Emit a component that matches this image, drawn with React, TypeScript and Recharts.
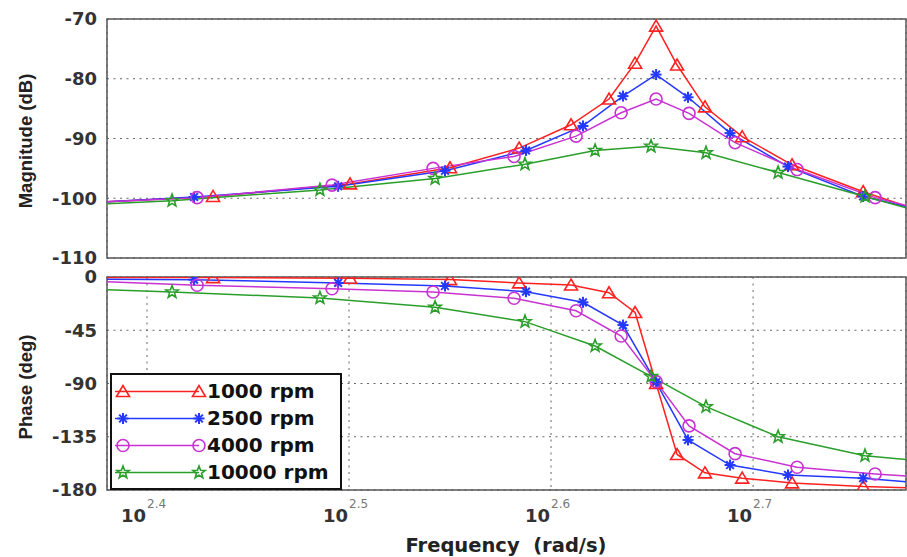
import React from "react";
import {
  LineChart,
  Line,
  XAxis,
  YAxis,
  CartesianGrid,
  ReferenceArea,
  Legend,
  Label,
} from "recharts";

// log10(frequency) range shown on both plots
const freqDomain = [2.3802, 2.7757];
const freqTicks = [2.4, 2.5, 2.6, 2.7];
const magTicks = [-110, -100, -90, -80, -70];
const phaseTicks = [-180, -135, -90, -45, 0];

// 1000 rpm (first and last points sit on the axes edges, no marker)
const rpm1000Freq = [2.3802, 2.4327, 2.5005, 2.55, 2.5842, 2.6099, 2.6287, 2.6416, 2.652, 2.6624, 2.6762, 2.6946, 2.7193, 2.7545, 2.7757];
const rpm1000Mag = [-100.6, -99.7, -97.6, -94.9, -91.6, -87.7, -83.4, -77.4, -71.2, -77.7, -84.7, -89.7, -94.4, -98.9, -101.3];
const rpm1000Phase = [-0.5, -0.5, -1.0, -2.2, -5.0, -6.8, -13.3, -30.0, -90.0, -150.0, -165.5, -170.0, -174.0, -177.0, -178.0];

// 2500 rpm
const rpm2500Freq = [2.3802, 2.4233, 2.4946, 2.5475, 2.5876, 2.6158, 2.6356, 2.652, 2.6678, 2.6886, 2.7173, 2.7545, 2.7757];
const rpm2500Mag = [-100.6, -99.8, -98.0, -95.4, -92.0, -87.9, -82.9, -79.3, -83.1, -89.1, -94.7, -99.7, -101.4];
const rpm2500Phase = [-2.0, -2.3, -5.0, -7.6, -12.4, -21.4, -40.6, -89.0, -137.7, -158.9, -167.3, -170.0, -173.0];

// 4000 rpm
const rpm4000Freq = [2.3802, 2.4248, 2.4916, 2.5416, 2.5817, 2.6124, 2.6347, 2.652, 2.6683, 2.6911, 2.7218, 2.7604, 2.7757];
const rpm4000Mag = [-100.6, -99.9, -97.8, -95.0, -93.0, -89.6, -85.7, -83.4, -85.8, -90.7, -95.2, -99.9, -101.2];
const rpm4000Phase = [-4.0, -7.0, -9.9, -12.7, -18.0, -28.5, -49.9, -88.4, -125.8, -149.3, -160.8, -166.5, -168.2];

// 10000 rpm
const rpm10000Freq = [2.3802, 2.4124, 2.4856, 2.5426, 2.5871, 2.6218, 2.6495, 2.6767, 2.7124, 2.7554, 2.7757];
const rpm10000Mag = [-100.9, -100.4, -98.6, -96.7, -94.3, -92.0, -91.3, -92.4, -95.7, -99.7, -101.6];
const rpm10000Phase = [-10.7, -12.7, -17.7, -25.6, -37.7, -58.3, -84.0, -109.6, -135.0, -151.0, -154.2];

type MarkerKind = "triangle" | "asterisk" | "circle" | "pentagram";

const series = [
  { name: "1000 rpm", color: "#ff2020", marker: "triangle" as MarkerKind, freq: rpm1000Freq, mag: rpm1000Mag, phase: rpm1000Phase },
  { name: "2500 rpm", color: "#2438ff", marker: "asterisk" as MarkerKind, freq: rpm2500Freq, mag: rpm2500Mag, phase: rpm2500Phase },
  { name: "4000 rpm", color: "#c832d2", marker: "circle" as MarkerKind, freq: rpm4000Freq, mag: rpm4000Mag, phase: rpm4000Phase },
  { name: "10000 rpm", color: "#2a9e2a", marker: "pentagram" as MarkerKind, freq: rpm10000Freq, mag: rpm10000Mag, phase: rpm10000Phase },
];

const toPoints = (freq: number[], vals: number[]) => freq.map((x, i) => ({ x, y: vals[i] }));

const fontBold = { fontFamily: "DejaVu Sans", fontWeight: "bold" as const };

function Marker({ kind, cx, cy, color }: { kind: MarkerKind; cx: number; cy: number; color: string }) {
  if (kind === "triangle") {
    return (
      <polygon
        points={`${cx},${cy - 6} ${cx - 6.5},${cy + 5} ${cx + 6.5},${cy + 5}`}
        fill="none"
        stroke={color}
        strokeWidth={1.6}
      />
    );
  }
  if (kind === "circle") {
    return <circle cx={cx} cy={cy} r={6} fill="none" stroke={color} strokeWidth={1.6} />;
  }
  if (kind === "asterisk") {
    const r = 5.5;
    const d = r * 0.7;
    return (
      <g stroke={color} strokeWidth={2}>
        <line x1={cx} y1={cy - r} x2={cx} y2={cy + r} />
        <line x1={cx - r} y1={cy} x2={cx + r} y2={cy} />
        <line x1={cx - d} y1={cy - d} x2={cx + d} y2={cy + d} />
        <line x1={cx - d} y1={cy + d} x2={cx + d} y2={cy - d} />
      </g>
    );
  }
  const pts: string[] = [];
  for (let i = 0; i < 10; i++) {
    const rad = i % 2 === 0 ? 6.5 : 2.7;
    const a = -Math.PI / 2 + (i * Math.PI) / 5;
    pts.push(`${cx + rad * Math.cos(a)},${cy + rad * Math.sin(a)}`);
  }
  return <polygon points={pts.join(" ")} fill="none" stroke={color} strokeWidth={1.6} />;
}

const makeDot = (kind: MarkerKind, color: string, count: number) => (props: any) => {
  const { cx, cy, index } = props;
  const key = `${kind}-${index}`;
  if (index === 0 || index === count - 1 || cx == null || cy == null) return <g key={key} />;
  return (
    <g key={key}>
      <Marker kind={kind} cx={cx} cy={cy} color={color} />
    </g>
  );
};

const FreqTick = ({ x, y, payload }: any) => (
  <g>
    <text x={x - 1} y={y + 32} textAnchor="end" fontSize={18} fill="#333" {...fontBold}>
      10
    </text>
    <text x={x} y={y + 18} textAnchor="start" fontSize={12} fill="#777" fontFamily="DejaVu Sans">
      {payload.value.toFixed(1)}
    </text>
  </g>
);

const yTick = { fontSize: 18, fill: "#333", ...fontBold };

const LegendBox = () => (
  <div
    style={{
      width: 232,
      height: 117,
      border: "2px solid #111",
      background: "#fff",
      boxSizing: "border-box",
      paddingTop: 3,
    }}
  >
    {series.map((s) => (
      <div key={s.name} style={{ display: "flex", alignItems: "center", height: 27 }}>
        <svg width={95} height={27} style={{ display: "block" }}>
          <line x1={3} y1={13.5} x2={87} y2={13.5} stroke={s.color} strokeWidth={1.6} />
          <Marker kind={s.marker} cx={11} cy={13.5} color={s.color} />
          <Marker kind={s.marker} cx={87} cy={13.5} color={s.color} />
        </svg>
        <span style={{ fontFamily: "DejaVu Sans", fontWeight: "bold", fontSize: 20, color: "#111", lineHeight: "27px" }}>
          {s.name}
        </span>
      </div>
    ))}
  </div>
);

export default function App() {
  return (
    <div style={{ position: "absolute", left: 0, top: 0, width: 907, height: 557, background: "#fff" }}>
      <div style={{ position: "absolute", left: 0, top: 0 }}>
        <LineChart width={907} height={270} margin={{ top: 19, right: 1, bottom: 12, left: 0 }}>
          <CartesianGrid stroke="#666" strokeDasharray="2 4.5" />
          <XAxis
            type="number"
            dataKey="x"
            domain={freqDomain}
            ticks={freqTicks}
            allowDataOverflow
            height={0}
            tick={false}
            tickLine={false}
            axisLine={false}
          />
          <YAxis
            type="number"
            domain={[-110, -70]}
            ticks={magTicks}
            width={107}
            tick={yTick}
            tickLine={false}
            axisLine={false}
            tickSize={0}
            tickMargin={10}
            allowDataOverflow
          >
            <Label
              content={() => (
                <text
                  x={25}
                  y={141}
                  transform="rotate(-90, 25, 141)"
                  textAnchor="middle"
                  dominantBaseline="central"
                  fontFamily="Liberation Sans"
                  fontWeight="bold"
                  fontSize={18.5}
                  fill="#222"
                >
                  Magnitude (dB)
                </text>
              )}
            />
          </YAxis>
          <ReferenceArea x1={freqDomain[0]} x2={freqDomain[1]} y1={-110} y2={-70} fill="none" stroke="#555" strokeWidth={1.5} />
          {series.map((s) => (
            <Line
              key={s.name}
              data={toPoints(s.freq, s.mag)}
              dataKey="y"
              type="linear"
              stroke={s.color}
              strokeWidth={1.5}
              dot={makeDot(s.marker, s.color, s.freq.length)}
              activeDot={false}
              isAnimationActive={false}
            />
          ))}
        </LineChart>
      </div>
      <div style={{ position: "absolute", left: 0, top: 260 }}>
        <LineChart width={907} height={297} margin={{ top: 17, right: 1, bottom: 0, left: 0 }}>
          <CartesianGrid stroke="#666" strokeDasharray="2 4.5" />
          <XAxis
            type="number"
            dataKey="x"
            domain={freqDomain}
            ticks={freqTicks}
            allowDataOverflow
            height={67}
            tick={<FreqTick />}
            tickLine={false}
            axisLine={false}
            tickSize={0}
            tickMargin={0}
          >
            <Label
              content={() => (
                <text x={506} y={292} textAnchor="middle" fontSize={19.5} fill="#222" {...fontBold}>
                  {"Frequency\u00a0 (rad/s)"}
                </text>
              )}
            />
          </XAxis>
          <YAxis
            type="number"
            domain={[-180, 0]}
            ticks={phaseTicks}
            width={107}
            tick={yTick}
            tickLine={false}
            axisLine={false}
            tickSize={0}
            tickMargin={10}
            allowDataOverflow
          >
            <Label
              content={() => (
                <text
                  x={25}
                  y={127}
                  transform="rotate(-90, 25, 127)"
                  textAnchor="middle"
                  dominantBaseline="central"
                  fontFamily="Liberation Sans"
                  fontWeight="bold"
                  fontSize={18.5}
                  fill="#222"
                >
                  Phase (deg)
                </text>
              )}
            />
          </YAxis>
          <ReferenceArea x1={freqDomain[0]} x2={freqDomain[1]} y1={-180} y2={0} fill="none" stroke="#555" strokeWidth={1.5} />
          {series.map((s) => (
            <Line
              key={s.name}
              data={toPoints(s.freq, s.phase)}
              dataKey="y"
              type="linear"
              stroke={s.color}
              strokeWidth={1.5}
              dot={makeDot(s.marker, s.color, s.freq.length)}
              activeDot={false}
              isAnimationActive={false}
            />
          ))}
          <Legend
            layout="horizontal"
            verticalAlign="middle"
            align="center"
            content={<LegendBox />}
            wrapperStyle={{ left: 110, top: 113, width: 232, height: 117 }}
          />
        </LineChart>
      </div>
    </div>
  );
}
